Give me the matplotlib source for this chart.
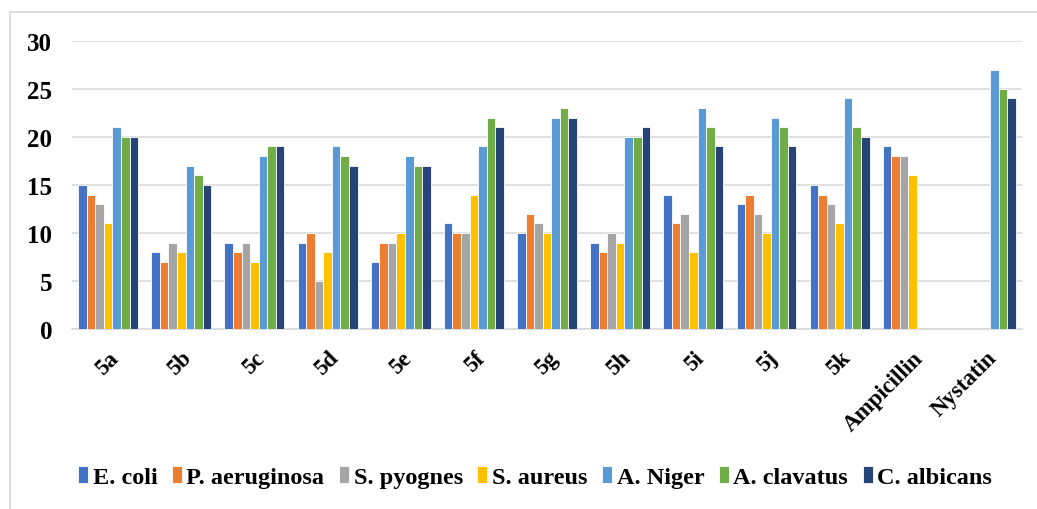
import numpy as np
import matplotlib
matplotlib.use("Agg")
import matplotlib.pyplot as plt
from matplotlib.lines import Line2D

categories = ["5a", "5b", "5c", "5d", "5e", "5f", "5g", "5h", "5i", "5j", "5k", "Ampicillin", "Nystatin"]
nan = np.nan
e_coli        = [15, 8, 9, 9, 7, 11, 10, 9, 14, 13, 15, 19, nan]
p_aeruginosa  = [14, 7, 8, 10, 9, 10, 12, 8, 11, 14, 14, 18, nan]
s_pyognes     = [13, 9, 9, 5, 9, 10, 11, 10, 12, 12, 13, 18, nan]
s_aureus      = [11, 8, 7, 8, 10, 14, 10, 9, 8, 10, 11, 16, nan]
a_niger       = [21, 17, 18, 19, 18, 19, 22, 20, 23, 22, 24, nan, 27]
a_clavatus    = [20, 16, 19, 18, 17, 22, 23, 20, 21, 21, 21, nan, 25]
c_albicans    = [20, 15, 19, 17, 17, 21, 22, 21, 19, 19, 20, nan, 24]

series_names = ["E. coli", "P. aeruginosa", "S. pyognes", "S. aureus", "A. Niger", "A. clavatus", "C. albicans"]
series_vals = [e_coli, p_aeruginosa, s_pyognes, s_aureus, a_niger, a_clavatus, c_albicans]
colors = ["#4472C4", "#ED7D31", "#A5A5A5", "#FFC000", "#5B9BD5", "#70AD47", "#264478"]

plt.rcParams['font.family'] = ['Liberation Serif', 'DejaVu Serif']
plt.rcParams['font.weight'] = 'bold'

fig = plt.figure(figsize=(10.37, 5.10), dpi=100)
ax = fig.add_axes([0.069, 0.353, 0.917, 0.565])

x = np.arange(len(categories))
n = len(series_vals)
w = 0.117
for i, (name, vals, c) in enumerate(zip(series_names, series_vals, colors)):
    off = (i - (n - 1) / 2) * w
    ax.bar(x + off, vals, width=w, color=c, edgecolor='white', linewidth=0.6, label=name, zorder=3)

ax.set_xlim(-0.5, len(categories) - 0.5)
ax.set_ylim(0, 30)
ax.set_yticks(range(0, 31, 5))
ax.yaxis.grid(True, color='#D9D9D9', linewidth=1.2, zorder=0)
ax.set_axisbelow(True)
for s in ['top', 'right', 'left']:
    ax.spines[s].set_visible(False)
ax.spines['bottom'].set_color('#D9D9D9')
ax.spines['bottom'].set_linewidth(1.2)
ax.tick_params(axis='both', length=0)
ax.tick_params(axis='y', labelsize=18, pad=14)
ax.set_xticks(x)
ax.set_xticklabels(categories, rotation=45, ha='right', va='top', rotation_mode='anchor', fontsize=16.5, fontweight='bold')
ax.tick_params(axis='x', pad=13)
for lab in ax.get_yticklabels():
    lab.set_fontweight('bold')

leg = fig.legend(loc='center', bbox_to_anchor=(0.516, 0.062), ncol=7, frameon=False,
                 prop={'family': ['Liberation Serif'], 'weight': 'bold', 'size': 17.5},
                 handlelength=0.4, handleheight=0.7, handletextpad=0.2, columnspacing=0.6)

# chart frame (left and top edges visible)
fig.add_artist(Line2D([9.5 / 1037, 9.5 / 1037], [0, 1 - 13 / 510], transform=fig.transFigure,
                      color='#D9D9D9', linewidth=1.2))
fig.add_artist(Line2D([9.5 / 1037, 1.0], [1 - 13 / 510, 1 - 13 / 510], transform=fig.transFigure,
                      color='#D9D9D9', linewidth=1.2))

fig.savefig("out.png", dpi=100)
